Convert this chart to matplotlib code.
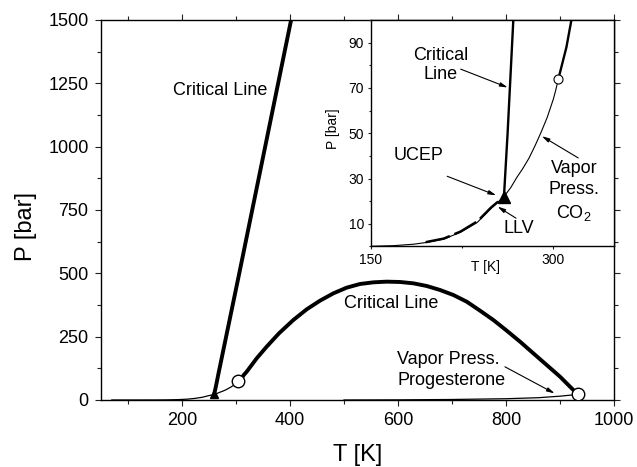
import matplotlib
matplotlib.use("Agg")
import matplotlib.pyplot as plt
from matplotlib.ticker import MultipleLocator

plt.rcParams['font.family'] = ['Liberation Sans', 'DejaVu Sans']

# CO2 vapor pressure curve (K, bar)
co2_T = [70, 100, 130, 150, 168.5, 185, 196, 210, 223.7, 237.6, 248.6, 259.4, 265, 270, 275,
         280, 285, 290, 295, 300, 302, 304.1]
co2_P = [0, 0, 0.05, 0.1, 0.36, 1.0, 1.8, 3.3, 6.3, 10.7, 16.7, 22, 26, 30.5, 34.5,
         39, 44.5, 50.5, 57, 65, 69, 73.8]

# LLV line ending at the UCEP
llv_T = [195, 210, 223.7, 237.6, 248.6, 259.4]
llv_P = [1.9, 3.5, 6.6, 11.1, 17.1, 22]

# critical line starting at the UCEP
cl1_T = [259.4, 262.4, 267.1, 306, 354, 402]
cl1_P = [22, 50, 100, 500, 1000, 1500]

# critical line from CO2 critical point to progesterone critical point
cl2_T = [304.1, 310.8, 314.9, 319.8, 338.3, 356.8, 379.6, 406.2, 430.9, 455.6, 480.3, 505,
         529.6, 554.3, 579, 603.7, 628.4, 653.1, 677.8, 702.5, 727.2, 751.9, 776.5, 801.3,
         826, 850.6, 875.3, 900, 918.5, 933]
cl2_P = [73.8, 88, 100, 111.8, 164.5, 210.5, 263.2, 315.8, 357.9, 392.1, 421, 443.4,
         457.9, 464.4, 467.1, 465.8, 460.5, 450, 434.2, 414.4, 388.1, 352.6, 315.8, 273.7,
         230.2, 184.2, 138.2, 92.1, 52.6, 22]

# progesterone vapor pressure
prog_T = [500, 600, 700, 800, 860, 900, 933]
prog_P = [0, 0.5, 2, 5, 9, 15, 22]

# special points
co2_crit = (304.1, 73.8)
prog_crit = (933, 22)
ucep = (259.4, 22)

fig = plt.figure(figsize=(6.37, 4.67), dpi=100)
ax = fig.add_axes([0.1586, 0.1435, 0.8053, 0.8137])

ax.plot(co2_T, co2_P, color='k', lw=0.9)
ax.plot(prog_T, prog_P, color='k', lw=0.9)
ax.plot(cl1_T, cl1_P, color='k', lw=2.8, solid_capstyle='butt')
ax.plot(cl2_T, cl2_P, color='k', lw=2.8, solid_joinstyle='round')
ax.plot(*ucep, marker='^', color='k', ms=6, zorder=5)
ax.plot(*co2_crit, marker='o', mfc='white', mec='k', mew=1.0, ms=9, zorder=6)
ax.plot(*prog_crit, marker='o', mfc='white', mec='k', mew=1.0, ms=9, zorder=6)

ax.set_xlim(50, 1000)
ax.set_ylim(0, 1500)
ax.xaxis.set_major_locator(MultipleLocator(200))
ax.xaxis.set_minor_locator(MultipleLocator(100))
ax.yaxis.set_major_locator(MultipleLocator(250))
ax.yaxis.set_minor_locator(MultipleLocator(125))
ax.tick_params(which='both', direction='out', width=0.8, labelsize=13, color='#222222')
ax.tick_params(which='major', length=4.5, pad=4.5)
ax.tick_params(which='minor', length=3)
ax.tick_params(which='both', top=True, right=True)
for sp in ax.spines.values():
    sp.set_linewidth(1.0)

ax.set_xlabel('T [K]', fontsize=17)
ax.set_ylabel('P [bar]', fontsize=17)
ax.xaxis.set_label_coords(0.5, -0.115)
ax.yaxis.set_label_coords(-0.125, 0.456)

arrow = dict(arrowstyle='-|>,head_length=0.45,head_width=0.12', color='k', lw=0.8,
             mutation_scale=10, shrinkA=0, shrinkB=0)

ax.text(270, 1220, 'Critical Line', fontsize=13, ha='center', va='center')
ax.text(588, 379, 'Critical Line', fontsize=13, ha='center', va='center')
ax.text(599, 118, 'Vapor Press.\nProgesterone', fontsize=13, ha='left', va='center',
        linespacing=1.25)
ax.annotate('', xy=(890, 26), xytext=(798, 131), arrowprops=arrow)

# inset: zoom on the low temperature region
ins = fig.add_axes([0.5824, 0.4722, 0.3816, 0.4850])
ins.set_facecolor('white')
ins.plot(co2_T, co2_P, color='k', lw=0.8)
ins.plot(llv_T, llv_P, color='k', lw=1.8, dashes=(10, 2))
ins.plot(cl1_T, cl1_P, color='k', lw=1.7)
ins.plot(cl2_T, cl2_P, color='k', lw=1.7)
ins.plot(*ucep, marker='^', color='k', ms=9, zorder=5)
ins.plot(*co2_crit, marker='o', mfc='white', mec='k', mew=0.8, ms=6.5, zorder=6)

ins.set_xlim(150, 350)
ins.set_ylim(0, 100)
ins.set_xticks([150, 300])
ins.xaxis.set_minor_locator(MultipleLocator(75))
ins.set_yticks([10, 30, 50, 70, 90])
ins.yaxis.set_minor_locator(MultipleLocator(10))
ins.tick_params(which='both', direction='out', width=0.8, labelsize=10, color='#222222')
ins.tick_params(which='major', length=2.5, pad=2.5)
ins.tick_params(which='minor', length=1.5)
for sp in ins.spines.values():
    sp.set_linewidth(1.0)

ins.set_xlabel('T [K]', fontsize=10)
ins.set_ylabel('P [bar]', fontsize=10)
ins.xaxis.set_label_coords(0.473, -0.06)
ins.yaxis.set_label_coords(-0.128, 0.52)

ins.text(207, 80, 'Critical\nLine', fontsize=13, ha='center', va='center', linespacing=1.15)
ins.annotate('', xy=(262.5, 70.2), xytext=(223.8, 78.3), arrowprops=arrow)
ins.text(189, 40, 'UCEP', fontsize=13, ha='center', va='center')
ins.annotate('', xy=(253, 22.6), xytext=(212.7, 31), arrowprops=arrow)
ins.text(272, 8.1, 'LLV', fontsize=13, ha='center', va='center')
ins.annotate('', xy=(254.2, 17.6), xytext=(269.3, 12.5), arrowprops=arrow)
ins.text(317, 24.3, 'Vapor\nPress.\nCO$_\\mathregular{2}$', fontsize=13, ha='center',
         va='center', linespacing=1.3)
ins.annotate('', xy=(290.6, 48.7), xytext=(320.5, 39.1), arrowprops=arrow)

fig.savefig('out.png', dpi=100)
